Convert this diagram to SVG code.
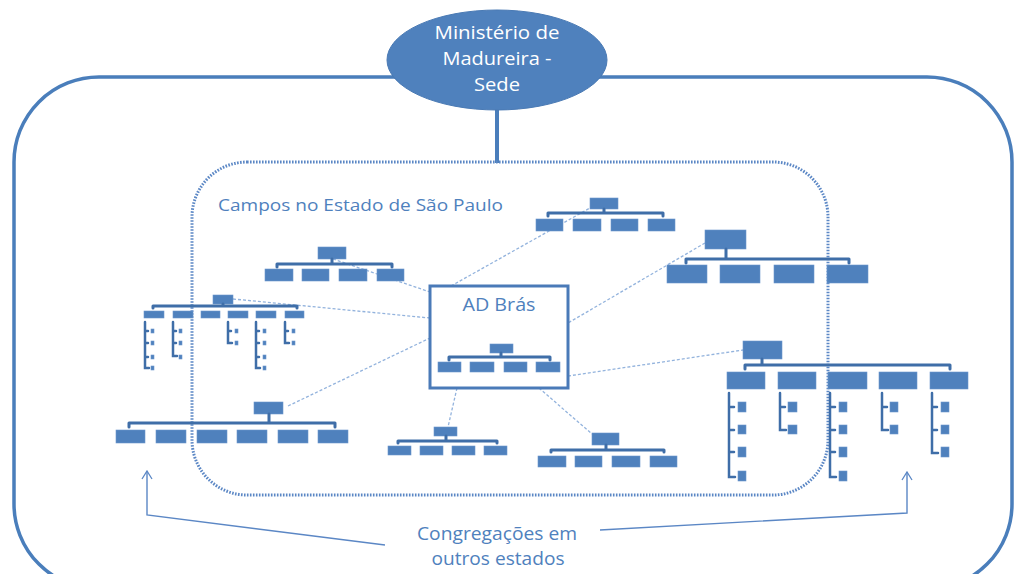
<svg xmlns="http://www.w3.org/2000/svg" width="1017" height="574" viewBox="0 0 1017 574">
<defs>
<style>
.box{fill:#4f81bd;stroke:#6b96cd;stroke-width:0.6}
.bar{stroke:#3f6ea8;stroke-width:3;fill:none;stroke-linecap:round;stroke-linejoin:round}
.br{stroke:#3f6ea8;stroke-width:2.5;fill:none;stroke-linecap:round}
.link{stroke:#93b3dd;stroke-width:1.3;stroke-dasharray:3 2;fill:none}
.t{font-family:"Open Sans","Liberation Sans",sans-serif;fill:#4f81bd}
.w{font-family:"Open Sans","Liberation Sans",sans-serif;fill:#ffffff}
.arr{stroke:#5b87c5;stroke-width:1.4;fill:none}
</style>
<marker id="ah" viewBox="0 0 10 12" refX="9" refY="6" markerWidth="10" markerHeight="12" markerUnits="userSpaceOnUse" orient="auto">
<path d="M1,1 L9,6 L1,11" fill="none" stroke="#5b87c5" stroke-width="1.3"/>
</marker>
</defs>
<rect width="1017" height="574" fill="#ffffff"/>

<g id="outer">
<rect x="14" y="77" width="998" height="512" rx="85" ry="85" fill="none" stroke="#4a7ebb" stroke-width="3.5"/>
</g>

<g id="connectors">
<line x1="497" y1="108" x2="497" y2="163" stroke="#4a7ebb" stroke-width="4"/>
<line class="link" x1="451" y1="286" x2="590" y2="208"/>
<line class="link" x1="333" y1="259" x2="430" y2="292"/>
<line class="link" x1="233" y1="299" x2="430" y2="318"/>
<line class="link" x1="705" y1="243" x2="568" y2="323"/>
<line class="link" x1="568" y1="376" x2="743" y2="350"/>
<line class="link" x1="288" y1="406" x2="430" y2="338"/>
<line class="link" x1="457" y1="388" x2="448" y2="427"/>
<line class="link" x1="539" y1="388" x2="592" y2="434"/>
<path class="arr" d="M385,545 L147,515 L147,471" marker-end="url(#ah)"/>
<path class="arr" d="M600,530 L907,513 L907,472" marker-end="url(#ah)"/>
</g>

<g id="sp-field">
<rect x="192" y="162" width="636" height="333" rx="55" ry="55" fill="none" stroke="#5b87c5" stroke-width="3" stroke-dasharray="1.6 1.4"/>
<text class="t" x="218" y="211" font-size="17" textLength="285" lengthAdjust="spacingAndGlyphs">Campos no Estado de São Paulo</text>
</g>

<g id="sede">
<ellipse cx="497" cy="60" rx="110" ry="50" fill="#4f81bd" stroke="#4a7ab4" stroke-width="1"/>
<text class="w" x="497" y="39" font-size="18" text-anchor="middle" textLength="125" lengthAdjust="spacingAndGlyphs">Ministério de</text>
<text class="w" x="497" y="65" font-size="18" text-anchor="middle" textLength="109" lengthAdjust="spacingAndGlyphs">Madureira -</text>
<text class="w" x="497" y="91" font-size="18" text-anchor="middle" textLength="46" lengthAdjust="spacingAndGlyphs">Sede</text>
</g>

<g id="ad-bras">
<rect x="430" y="286" width="138" height="102" fill="#ffffff" stroke="#4a7ab8" stroke-width="3"/>
<text class="t" x="499" y="311" font-size="18" text-anchor="middle" textLength="73" lengthAdjust="spacingAndGlyphs">AD Brás</text>
<rect class="box" x="490" y="344" width="23" height="9"/>
<path class="bar" d="M449,360 V357 H550 V360 M501,353 V357"/>
<rect class="box" x="438" y="362" width="23" height="10"/>
<rect class="box" x="470" y="362" width="24" height="10"/>
<rect class="box" x="504" y="362" width="23" height="10"/>
<rect class="box" x="536" y="362" width="24" height="10"/>
</g>

<g id="org-a">
<rect class="box" x="590" y="198" width="28" height="11"/>
<path class="bar" d="M548,216 V213 H663 V216 M604,209 V213"/>
<rect class="box" x="536" y="219" width="27" height="12"/>
<rect class="box" x="573" y="219" width="28" height="12"/>
<rect class="box" x="611" y="219" width="27" height="12"/>
<rect class="box" x="648" y="219" width="27" height="12"/>
</g>

<g id="org-b">
<rect class="box" x="318" y="247" width="28" height="12"/>
<path class="bar" d="M277,267 V264 H392 V267 M332,259 V264"/>
<rect class="box" x="265" y="269" width="28" height="12"/>
<rect class="box" x="302" y="269" width="27" height="12"/>
<rect class="box" x="339" y="269" width="28" height="12"/>
<rect class="box" x="377" y="269" width="27" height="12"/>
</g>

<g id="org-c">
<rect class="box" x="705" y="230" width="41" height="19"/>
<path class="bar" d="M686,263 V259 H849 V263 M726,249 V259"/>
<rect class="box" x="667" y="265" width="40" height="18"/>
<rect class="box" x="720" y="265" width="40" height="18"/>
<rect class="box" x="774" y="265" width="40" height="18"/>
<rect class="box" x="827" y="265" width="41" height="18"/>
</g>

<g id="org-d">
<rect class="box" x="213" y="295" width="20" height="9"/>
<path class="bar" d="M153,308 V306 H297 V308 M223,304 V306"/>
<rect class="box" x="144" y="311" width="20" height="7"/>
<rect class="box" x="173" y="311" width="20" height="7"/>
<rect class="box" x="201" y="311" width="19" height="7"/>
<rect class="box" x="228" y="311" width="20" height="7"/>
<rect class="box" x="256" y="311" width="20" height="7"/>
<rect class="box" x="285" y="311" width="19" height="7"/>
<path class="br" d="M145,322 V368 H149 M145,331 H148 M145,343 H148 M145,357 H148"/>
<rect class="box" x="151" y="329" width="3" height="4"/>
<rect class="box" x="151" y="341" width="3" height="4"/>
<rect class="box" x="151" y="355" width="3" height="4"/>
<rect class="box" x="151" y="366" width="3" height="4"/>
<path class="br" d="M173,322 V356 H177 M173,331 H176 M173,343 H176"/>
<rect class="box" x="179" y="329" width="3" height="4"/>
<rect class="box" x="179" y="341" width="3" height="4"/>
<rect class="box" x="179" y="355" width="3" height="4"/>
<path class="br" d="M228,322 V343 H232 M228,331 H231"/>
<rect class="box" x="235" y="329" width="3" height="4"/>
<rect class="box" x="235" y="341" width="3" height="4"/>
<path class="br" d="M256,322 V368 H260 M256,331 H259 M256,343 H259 M256,357 H259"/>
<rect class="box" x="263" y="329" width="3" height="4"/>
<rect class="box" x="263" y="341" width="3" height="4"/>
<rect class="box" x="263" y="355" width="3" height="4"/>
<rect class="box" x="263" y="366" width="3" height="4"/>
<path class="br" d="M285,322 V343 H289 M285,331 H288"/>
<rect class="box" x="292" y="329" width="3" height="4"/>
<rect class="box" x="292" y="341" width="3" height="4"/>
</g>

<g id="org-e">
<rect class="box" x="254" y="402" width="29" height="12"/>
<path class="bar" d="M129,427 V423 H335 V427 M269,414 V423"/>
<rect class="box" x="116" y="430" width="29" height="13"/>
<rect class="box" x="156" y="430" width="30" height="13"/>
<rect class="box" x="197" y="430" width="30" height="13"/>
<rect class="box" x="237" y="430" width="30" height="13"/>
<rect class="box" x="278" y="430" width="30" height="13"/>
<rect class="box" x="318" y="430" width="30" height="13"/>
</g>

<g id="org-f">
<rect class="box" x="434" y="427" width="23" height="9"/>
<path class="bar" d="M398,443 V441 H497 V443 M446,436 V441"/>
<rect class="box" x="388" y="446" width="23" height="9"/>
<rect class="box" x="420" y="446" width="23" height="9"/>
<rect class="box" x="452" y="446" width="23" height="9"/>
<rect class="box" x="484" y="446" width="23" height="9"/>
</g>

<g id="org-g">
<rect class="box" x="592" y="433" width="27" height="12"/>
<path class="bar" d="M551,452 V450 H664 V452 M606,445 V450"/>
<rect class="box" x="538" y="456" width="28" height="11"/>
<rect class="box" x="575" y="456" width="27" height="11"/>
<rect class="box" x="612" y="456" width="28" height="11"/>
<rect class="box" x="650" y="456" width="27" height="11"/>
</g>

<g id="org-h">
<rect class="box" x="743" y="341" width="39" height="18"/>
<path class="bar" d="M745,369 V365 H950 V369 M762,359 V365"/>
<rect class="box" x="727" y="372" width="38" height="17"/>
<rect class="box" x="778" y="372" width="38" height="17"/>
<rect class="box" x="828" y="372" width="39" height="17"/>
<rect class="box" x="879" y="372" width="38" height="17"/>
<rect class="box" x="930" y="372" width="38" height="17"/>
<path class="br" d="M729,393 V477 H735 M729,407 H734 M729,430 H734 M729,452 H734"/>
<rect class="box" x="738" y="402" width="8" height="10"/>
<rect class="box" x="738" y="425" width="8" height="9"/>
<rect class="box" x="738" y="447" width="8" height="10"/>
<rect class="box" x="738" y="471" width="8" height="10"/>
<path class="br" d="M780,393 V430 H786 M780,407 H785"/>
<rect class="box" x="788" y="402" width="9" height="10"/>
<rect class="box" x="788" y="425" width="9" height="9"/>
<path class="br" d="M830,393 V477 H836 M830,407 H835 M830,430 H835 M830,452 H835"/>
<rect class="box" x="839" y="402" width="8" height="10"/>
<rect class="box" x="839" y="425" width="8" height="9"/>
<rect class="box" x="839" y="447" width="8" height="10"/>
<rect class="box" x="839" y="471" width="8" height="10"/>
<path class="br" d="M882,393 V430 H888 M882,407 H887"/>
<rect class="box" x="890" y="402" width="8" height="10"/>
<rect class="box" x="890" y="425" width="8" height="9"/>
<path class="br" d="M932,393 V453 H938 M932,407 H937 M932,430 H937"/>
<rect class="box" x="941" y="402" width="8" height="10"/>
<rect class="box" x="941" y="425" width="8" height="9"/>
<rect class="box" x="941" y="447" width="8" height="10"/>
</g>

<g id="other-states">
<text class="t" x="497" y="540" font-size="18" text-anchor="middle" textLength="160" lengthAdjust="spacingAndGlyphs">Congregações em</text>
<text class="t" x="498" y="565" font-size="18" text-anchor="middle" textLength="133" lengthAdjust="spacingAndGlyphs">outros estados</text>
</g>
</svg>
